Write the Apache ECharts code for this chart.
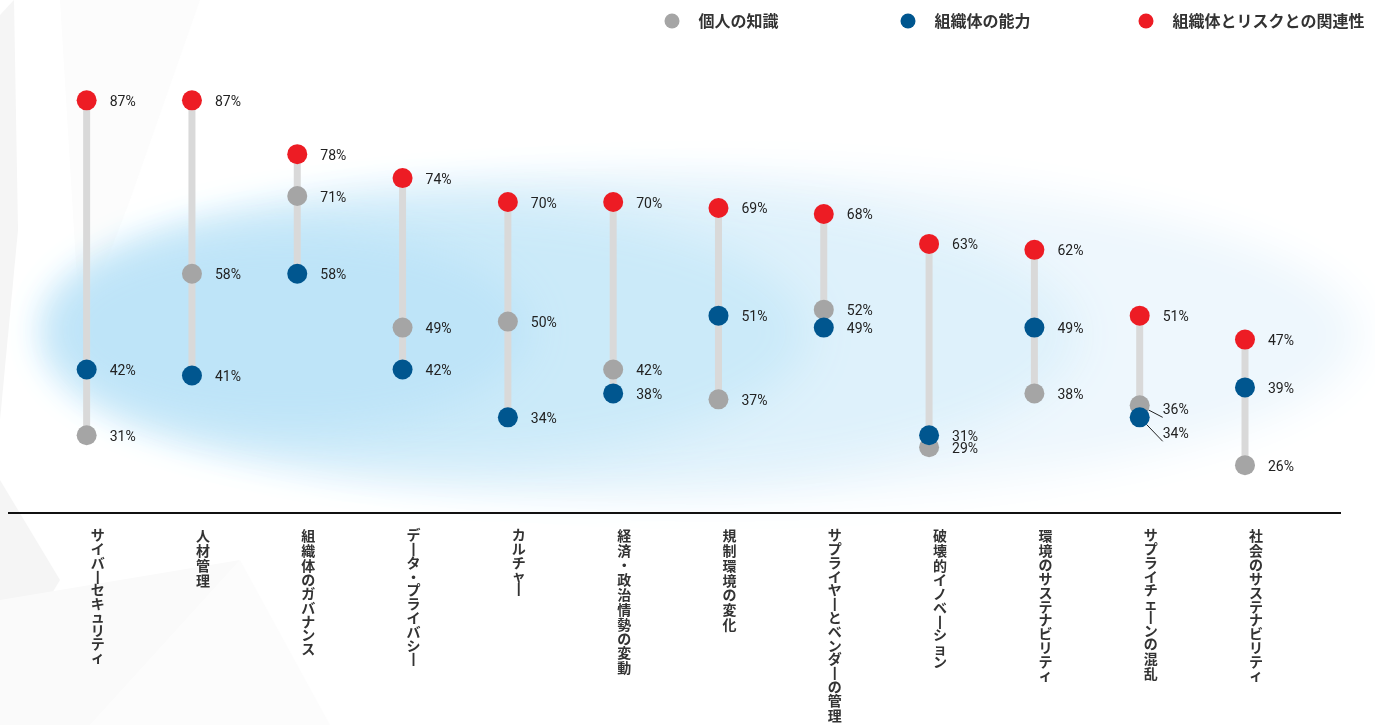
<!DOCTYPE html>
<html><head><meta charset="utf-8">
<script src="https://cdn.jsdelivr.net/npm/echarts@6/dist/echarts.min.js"></script>
<style>html,body{margin:0;padding:0;background:#fff}#c{width:1375px;height:725px}</style>
</head><body><div id="c"></div>
<script>
const categories = ['サイバーセキュリティ','人材管理','組織体のガバナンス','データ・プライバシー','カルチャー','経済・政治情勢の変動','規制環境の変化','サプライヤーとベンダーの管理','破壊的イノベーション','環境のサステナビリティ','サプライチェーンの混乱','社会のサステナビリティ'];
const knowledge  = [31,58,71,49,50,42,37,52,29,38,36,26];
const capability = [42,41,58,42,34,38,51,49,31,49,34,39];
const relevance  = [87,87,78,74,70,70,69,68,63,62,51,47];
const seriesNames = ['個人の知識','組織体の能力','組織体とリスクとの関連性'];

const colors = ['#a5a5a5','#00568f','#ed1c24'];
const FONT_JP = '"Noto Sans CJK JP", "Noto Sans", sans-serif';
const FONT_NUM = 'Roboto, "DejaVu Sans", sans-serif';

// per-item label tweaks for overlapping points (index 10)
const labelTweaks = {
  0: {10: {offset:[0,5]}},
  1: {10: {offset:[0,17]}}
};

function makeData(arr, sIdx){
  return arr.map((v,i)=>{
    const t = labelTweaks[sIdx] && labelTweaks[sIdx][i];
    if(!t) return {value:v};
    return {value:v, label:{offset:t.offset}, labelLine:{show:true, lineStyle:{color:'#222', width:1}}};
  });
}

const rangeData = categories.map((c,i)=>{
  const vals=[knowledge[i],capability[i],relevance[i]];
  return [i, Math.min(...vals), Math.max(...vals)];
});

const labelStyle = {
  show:true, position:'right', distance:13, offset:[0,2],
  formatter: p => p.value + '%',
  fontFamily: FONT_NUM, fontSize:14, fontWeight:400, color:'#222'
};

function scatter(idx, arr){
  return {
    name: seriesNames[idx], type:'scatter', symbol:'circle', symbolSize:20,
    itemStyle:{color:colors[idx], opacity:1},
    label: labelStyle,
    labelLine:{show:false},
    data: makeData(arr, idx), z: 3+idx, silent:true
  };
}

// soft background glow: blurred ellipses (shape drawn off-screen, only shadow visible)
const OFF = 3000;
function glow(cx, cy, rx, ry, color, blur){
  return {type:'ellipse', z:-10, silent:true,
    shape:{cx:cx-OFF, cy:cy, rx:rx, ry:ry},
    style:{fill:'#000', shadowColor:color, shadowBlur:blur, shadowOffsetX:OFF, shadowOffsetY:0}};
}
const bgLayers = [
  glow(715, 335, 645, 160, 'rgba(238,247,253,1)', 45),
  glow(570, 335, 510, 148, 'rgba(222,241,251,1)', 45),
  glow(430, 332, 380, 128, 'rgba(203,234,249,1)', 45),
  glow(290, 330, 240, 98, 'rgba(190,228,248,1)', 40)
];

const bgPolys = [
  {type:'polygon', z:-20, silent:true, shape:{points:[[0,15],[14,0],[18,230],[0,420]]}, style:{fill:'#f5f5f5'}},
  {type:'polygon', z:-20, silent:true, shape:{points:[[60,0],[200,0],[130,200],[80,330]]}, style:{fill:'#fcfcfc'}},
  {type:'polygon', z:-20, silent:true, shape:{points:[[0,480],[60,580],[0,680]]}, style:{fill:'#f5f5f5'}},
  {type:'polygon', z:-20, silent:true, shape:{points:[[0,600],[240,560],[90,725],[0,725]]}, style:{fill:'#fafafa'}},
  {type:'polygon', z:-20, silent:true, shape:{points:[[240,560],[330,725],[90,725]]}, style:{fill:'#fcfcfc'}}
];

// vertical (tategaki-like) category labels: one character per line
const SMALL_KANA = 'ィュャョェッ';
const KANA_RE = /[\u3040-\u30ff\u30fc・]/;
const richBase = {fontFamily:FONT_JP, fontSize:14, fontWeight:'bold', color:'#333', align:'center'};
const rich = {
  k: Object.assign({lineHeight:15}, richBase),
  a: Object.assign({lineHeight:13.8}, richBase),
  s: Object.assign({lineHeight:12.5}, richBase)
};
function verticalLabel(v){
  return v.split('').map(c => {
    const ch = c === 'ー' ? '丨' : c;
    const cls = SMALL_KANA.includes(c) ? 's' : (KANA_RE.test(c) ? 'a' : 'k');
    return '{' + cls + '|' + ch + '}';
  }).join('\n');
}

const chart = echarts.init(document.getElementById('c'), null, {renderer:'canvas'});
const legendBase = {
  icon:'circle', itemWidth:15, itemHeight:15, top:8, selectedMode:false, padding:5,
  textStyle:{fontFamily:FONT_JP, fontSize:16, fontWeight:'bold', color:'#333', padding:[0,0,0,14]}
};
chart.setOption({
  backgroundColor:'#ffffff',
  animation:false,
  legend:[
    Object.assign({}, legendBase, {data:[seriesNames[0]], left:659.5}),
    Object.assign({}, legendBase, {data:[seriesNames[1]], left:895.5}),
    Object.assign({}, legendBase, {data:[seriesNames[2]], left:1133.5})
  ],
  grid:{left:34, right:77.35, top:22.6, bottom:212, containLabel:false, outerBoundsMode:'none'},
  xAxis:{
    type:'category', data:categories, boundaryGap:true,
    axisLine:{show:false}, axisTick:{show:false}, splitLine:{show:false},
    axisLabel:{
      interval:0, margin:15, verticalAlign:'top', align:'center',
      padding:[0,0,0,22], hideOverlap:false,
      fontFamily:FONT_JP, fontSize:14, fontWeight:'bold', color:'#333',
      formatter: verticalLabel, rich: rich
    }
  },
  yAxis:{type:'value', min:18, max:100, show:false, splitLine:{show:false}},
  graphic:[].concat(bgPolys, bgLayers, [
    {type:'line', z:10, silent:true, shape:{x1:8, y1:513, x2:1341, y2:513}, style:{stroke:'#111', lineWidth:2}}
  ]),
  series:[
    {
      type:'custom', silent:true, z:1,
      renderItem:(params, api)=>{
        const x=api.value(0), lo=api.value(1), hi=api.value(2);
        const p1=api.coord([x,hi]), p2=api.coord([x,lo]);
        return {type:'rect', shape:{x:p1[0]-3.5, y:p1[1], width:7, height:p2[1]-p1[1]}, style:{fill:'#d9d9d9'}};
      },
      encode:{x:0, y:[1,2]},
      data: rangeData
    },
    scatter(0, knowledge),
    scatter(1, capability),
    scatter(2, relevance)
  ]
});
</script></body></html>
